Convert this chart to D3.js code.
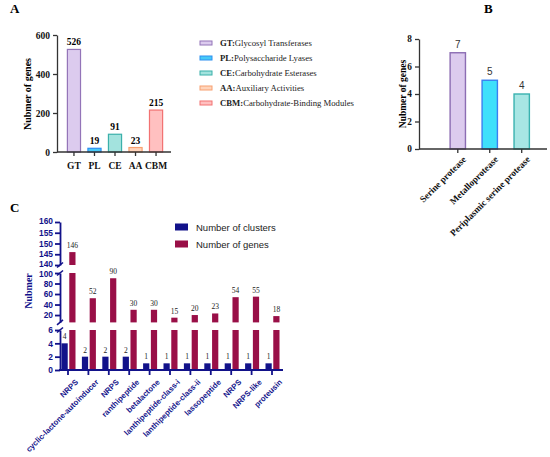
<!DOCTYPE html>
<html>
<head>
<meta charset="utf-8">
<script src="https://cdn.jsdelivr.net/npm/d3@7"></script>
<style>
  body { margin: 0; background: #fff; }
  svg { display: block; }
</style>
</head>
<body>
<div id="chart"></div>
<script>
// ---- data ----
var cazyCats = ["GT", "PL", "CE", "AA", "CBM"];
var cazyVals = [526, 19, 91, 23, 215];
var cazyNames = ["Glycosyl Transferases", "Polysaccharide Lyases", "Carbohydrate Esterases", "Auxiliary Activities", "Carbohydrate-Binding Modules"];
var cazyFill = ["#dccbee", "#46c9f7", "#a3e3de", "#ffd4bb", "#ffc0c0"];
var cazyStroke = ["#9374b8", "#2f8ff0", "#3bb0aa", "#f7a070", "#f27272"];
var cazyTicks = [0, 200, 400, 600];

var protCats = ["Serine protease", "Metalloprotease", "Periplasmic serine protease"];
var protVals = [7, 5, 4];
var protFill = ["#dccbee", "#3fe0fb", "#a8e6e4"];
var protStroke = ["#8c6db3", "#3a7ff0", "#3ab2b0"];
var protTicks = [0, 2, 4, 6, 8];

var bgcCats = ["NRPS", "cyclic-lactone-autoinducer", "NRPS", "ranthipeptide", "betalactone", "lanthipeptide-class-i", "lanthipeptide-class-ii", "lassopeptide", "NRPS", "NRPS-like", "proteusin"];
var bgcClusters = [4, 2, 2, 2, 1, 1, 1, 1, 1, 1, 1];
var bgcGenes = [146, 52, 90, 30, 30, 15, 20, 23, 54, 55, 18];
var seriesNames = ["Number of clusters", "Number of genes"];
var ticksTop = [140, 145, 150, 155, 160];
var ticksMid = [20, 40, 60, 80, 100];
var ticksBot = [0, 2, 4, 6];

var navy = "#12128a", wine = "#990f47", axisCol = "#333";
var serif = "'Liberation Serif','Times New Roman',serif";
var sans = "'Liberation Sans',Arial,sans-serif";

var svg = d3.select("#chart").append("svg")
  .attr("width", 550).attr("height", 457);

// panel letters
[["A", 10, 13], ["B", 484, 13], ["C", 10, 212]].forEach(function(p) {
  svg.append("text").attr("x", p[1]).attr("y", p[2])
    .attr("font-family", serif).attr("font-weight", "bold").attr("font-size", 13)
    .text(p[0]);
});

// ===== Panel A =====
var gA = svg.append("g");
var xA = d3.scaleBand().domain(d3.range(cazyCats.length)).range([60, 170]).padding(0.36);
var yA = d3.scaleLinear().domain([0, 600]).range([152, 35]);

gA.selectAll("rect").data(cazyVals).enter().append("rect")
  .attr("x", function(d, i) { return xA(i); })
  .attr("y", function(d) { return yA(d); })
  .attr("width", xA.bandwidth())
  .attr("height", function(d) { return yA(0) - yA(d); })
  .attr("fill", function(d, i) { return cazyFill[i]; })
  .attr("stroke", function(d, i) { return cazyStroke[i]; })
  .attr("stroke-width", 1.2);

gA.selectAll(".val").data(cazyVals).enter().append("text")
  .attr("x", function(d, i) { return xA(i) + xA.bandwidth() / 2; })
  .attr("y", function(d) { return yA(d) - 4; })
  .attr("text-anchor", "middle")
  .attr("font-family", serif).attr("font-weight", "bold").attr("font-size", 9.5)
  .text(function(d) { return d; });

var axA = gA.append("g").attr("transform", "translate(57,0)")
  .call(d3.axisLeft(yA).tickValues(cazyTicks).tickSize(4).tickSizeOuter(0));
var axAx = gA.append("g").attr("transform", "translate(0,152)")
  .call(d3.axisBottom(xA).tickFormat(function(i) { return cazyCats[i]; }).tickSize(4).tickSizeOuter(0));
gA.append("line").attr("x1", 57).attr("x2", 171).attr("y1", 152).attr("y2", 152)
  .attr("stroke", axisCol).attr("stroke-width", 1.3);
[axA, axAx].forEach(function(a) {
  a.select(".domain").attr("stroke", axisCol).attr("stroke-width", 1.3);
  a.selectAll(".tick line").attr("stroke", axisCol).attr("stroke-width", 1.3);
  a.selectAll("text").attr("font-family", serif).attr("font-weight", "bold")
    .attr("font-size", 9.5).attr("fill", "#111");
});
axAx.select(".domain").remove();
axAx.selectAll("text").attr("dy", "1.1em");

gA.append("text").attr("transform", "translate(31,94) rotate(-90)")
  .attr("text-anchor", "middle")
  .attr("font-family", serif).attr("font-weight", "bold").attr("font-size", 10)
  .text("Nubmer of genes");

// legend A
var legA = gA.selectAll(".leg").data(cazyCats).enter().append("g")
  .attr("transform", function(d, i) { return "translate(200," + (43 + i * 15) + ")"; });
legA.append("rect").attr("x", 0).attr("y", -2).attr("width", 12).attr("height", 4)
  .attr("fill", function(d, i) { return cazyFill[i]; })
  .attr("stroke", function(d, i) { return cazyStroke[i]; }).attr("stroke-width", 1);
var legAt = legA.append("text").attr("x", 20).attr("y", 3)
  .attr("font-family", serif).attr("font-size", 8.7).attr("fill", "#222");
legAt.append("tspan").attr("font-weight", "bold").text(function(d) { return d + ":"; });
legAt.append("tspan").text(function(d, i) { return cazyNames[i]; });

// ===== Panel B =====
var gB = svg.append("g");
var xB = d3.scaleBand().domain(protCats).range([433.5, 546]).padding(0.52);
var yB = d3.scaleLinear().domain([0, 8]).range([149, 39]);

gB.selectAll("rect").data(protVals).enter().append("rect")
  .attr("x", function(d, i) { return xB(protCats[i]); })
  .attr("y", function(d) { return yB(d); })
  .attr("width", xB.bandwidth())
  .attr("height", function(d) { return yB(0) - yB(d); })
  .attr("fill", function(d, i) { return protFill[i]; })
  .attr("stroke", function(d, i) { return protStroke[i]; })
  .attr("stroke-width", 1.4);

gB.selectAll(".val").data(protVals).enter().append("text")
  .attr("x", function(d, i) { return xB(protCats[i]) + xB.bandwidth() / 2; })
  .attr("y", function(d) { return yB(d) - 5; })
  .attr("text-anchor", "middle")
  .attr("font-family", sans).attr("font-size", 10).attr("fill", "#333")
  .text(function(d) { return d; });

var axB = gB.append("g").attr("transform", "translate(419,0)")
  .call(d3.axisLeft(yB).tickValues(protTicks).tickSize(4).tickSizeOuter(0));
var axBx = gB.append("g").attr("transform", "translate(0,149)")
  .call(d3.axisBottom(xB).tickSize(4).tickSizeOuter(0));
gB.append("line").attr("x1", 419).attr("x2", 547).attr("y1", 149).attr("y2", 149)
  .attr("stroke", axisCol).attr("stroke-width", 1.3);
[axB, axBx].forEach(function(a) {
  a.select(".domain").attr("stroke", axisCol).attr("stroke-width", 1.3);
  a.selectAll(".tick line").attr("stroke", axisCol).attr("stroke-width", 1.3);
  a.selectAll("text").attr("font-family", serif).attr("font-weight", "bold")
    .attr("font-size", 9.3).attr("fill", "#111");
});
axBx.select(".domain").remove();
axBx.selectAll("text")
  .attr("text-anchor", "end").attr("dy", null)
  .attr("transform", "translate(4,6) rotate(-45)");

gB.append("text").attr("transform", "translate(406,94) rotate(-90)")
  .attr("text-anchor", "middle")
  .attr("font-family", serif).attr("font-weight", "bold").attr("font-size", 9.5)
  .text("Nubmer of genes");

// ===== Panel C (broken y axis) =====
var gC = svg.append("g");
var xC = d3.scaleBand().domain(d3.range(bgcCats.length)).range([57.8, 282.2]);
var xIn = d3.scaleBand().domain(seriesNames).range([-6.5, 7.5]).paddingInner(0.2);
var segs = [
  { dom: [140, 160], rng: [265, 222], ticks: ticksTop, nudge: -1.2 },
  { dom: [6, 100], rng: [322.4, 273], ticks: ticksMid, nudge: 1.2 },
  { dom: [0, 6], rng: [370, 330], ticks: ticksBot, nudge: 0 }
];
segs.forEach(function(s) { s.y = d3.scaleLinear().domain(s.dom).range(s.rng); });

var cx = function(i) { return xC(i) + xC.bandwidth() / 2; };

// bars, one piece per segment
segs.forEach(function(s) {
  var pieces = [];
  bgcGenes.forEach(function(v, i) {
    if (v > s.dom[0]) pieces.push({ i: i, v: Math.min(v, s.dom[1]), k: 1 });
  });
  bgcClusters.forEach(function(v, i) {
    if (v > s.dom[0]) pieces.push({ i: i, v: Math.min(v, s.dom[1]), k: 0 });
  });
  gC.append("g").selectAll("rect").data(pieces).enter().append("rect")
    .attr("x", function(d) { return cx(d.i) + xIn(seriesNames[d.k]); })
    .attr("y", function(d) { return s.y(d.v); })
    .attr("width", xIn.bandwidth())
    .attr("height", function(d) { return s.y(s.dom[0]) - s.y(d.v); })
    .attr("fill", function(d) { return d.k ? wine : navy; });

  var ax = gC.append("g").attr("transform", "translate(60,0)")
    .call(d3.axisLeft(s.y).tickValues(s.ticks).tickFormat(d3.format("d")).tickSize(5).tickSizeOuter(0));
  ax.select(".domain").attr("stroke", navy).attr("stroke-width", 1.8);
  ax.selectAll(".tick line").attr("stroke", navy).attr("stroke-width", 1.8);
  ax.selectAll("text").attr("font-family", sans).attr("font-weight", "bold")
    .attr("font-size", 8.4).attr("fill", navy).attr("x", -7)
    .attr("y", function(d) { return (d === s.dom[0] || d === s.dom[1]) ? s.nudge : 0; });
});

// break marks on the y axis
var segOf = function(v) { return v > 100 ? segs[0] : (v > 6 ? segs[1] : segs[2]); };
[segs[0].rng[0], segs[1].rng[1], segs[1].rng[0], segs[2].rng[1]].forEach(function(y) {
  gC.append("line").attr("x1", 57).attr("x2", 63).attr("y1", y + 2.5).attr("y2", y - 2.5)
    .attr("stroke", navy).attr("stroke-width", 1.6);
});

// value labels
gC.selectAll(".gv").data(bgcGenes).enter().append("text")
  .attr("x", function(d, i) { return cx(i) + xIn(seriesNames[1]) + xIn.bandwidth() / 2; })
  .attr("y", function(d) { return segOf(d).y(d) - 4; })
  .attr("text-anchor", "middle")
  .attr("font-family", serif).attr("font-size", 7.5).attr("fill", "#222")
  .text(function(d) { return d; });
gC.selectAll(".cv").data(bgcClusters).enter().append("text")
  .attr("x", function(d, i) { return cx(i) + xIn(seriesNames[0]) + xIn.bandwidth() / 2; })
  .attr("y", function(d) { return segs[2].y(d) - 4; })
  .attr("text-anchor", "middle")
  .attr("font-family", serif).attr("font-size", 7.5).attr("fill", "#222")
  .text(function(d) { return d; });

// x axis
var axCx = gC.append("g").attr("transform", "translate(0,370)")
  .call(d3.axisBottom(xC).tickFormat(function(i) { return bgcCats[i]; }).tickSize(5).tickSizeOuter(0));
axCx.select(".domain").remove();
gC.append("line").attr("x1", 59).attr("x2", 283).attr("y1", 370).attr("y2", 370)
  .attr("stroke", navy).attr("stroke-width", 1.8);
axCx.selectAll(".tick line").attr("stroke", navy).attr("stroke-width", 1.8);
axCx.selectAll("text")
  .attr("font-family", sans).attr("font-weight", "bold").attr("font-size", 7.8).attr("fill", navy)
  .attr("text-anchor", "end").attr("dy", null)
  .attr("transform", "translate(5,7) rotate(-45)");

gC.append("text").attr("transform", "translate(32,291) rotate(-90)")
  .attr("text-anchor", "middle")
  .attr("font-family", serif).attr("font-weight", "bold").attr("font-size", 10).attr("fill", navy)
  .text("Nubmer");

// legend C
var legC = gC.selectAll(".legc").data(seriesNames).enter().append("g")
  .attr("transform", function(d, i) { return "translate(175," + (227 + i * 17) + ")"; });
legC.append("rect").attr("x", 0).attr("y", -3.5).attr("width", 13).attr("height", 7)
  .attr("fill", function(d, i) { return i ? wine : navy; });
legC.append("text").attr("x", 21).attr("y", 3.5)
  .attr("font-family", sans).attr("font-size", 9.5).attr("fill", "#222")
  .text(function(d) { return d; });
</script>
</body>
</html>
